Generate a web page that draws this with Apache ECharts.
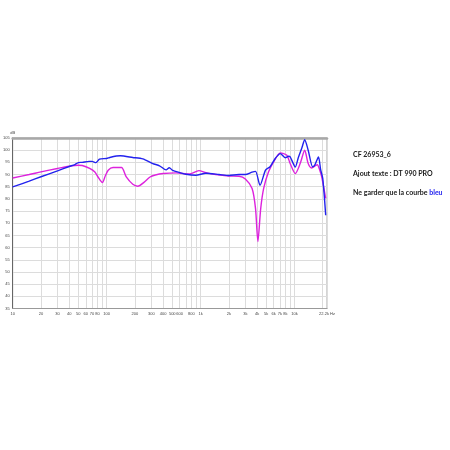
<!DOCTYPE html>
<html><head><meta charset="utf-8">
<script src="https://cdn.jsdelivr.net/npm/echarts@6/dist/echarts.min.js"></script>
<style>html,body{margin:0;padding:0;background:#fff}#c{width:450px;height:450px}</style>
</head><body><div id="c"></div>
<script>
// Blue curve (DT 990 PRO)
const blueFreq = [10,15,20,30,40,46,50,55,65,70,77,84,100,108,127,140,190,243,310,366,430,465,505,600,700,890,1140,1570,2000,2570,3000,3540,3850,4300,4920,5500,6240,7070,7970,8650,9000,10200,11000,12000,12850,14000,15600,16500,18000,19000,20000,21500];
const blueDb   = [84.9,87.3,89.1,91.5,93.3,94.1,94.9,95.0,95.4,95.4,94.9,96.3,96.6,97.0,97.6,97.7,97.0,96.4,94.5,93.6,91.9,92.8,91.7,90.8,90.1,89.7,90.5,90.0,89.6,90.0,90.0,91.0,91.3,85.6,91.8,93.2,96.6,98.6,96.9,97.5,97.3,93.1,97.0,101.0,104.3,100.0,93.2,94.0,97.2,92.0,88.4,73.3];
// Magenta curve
const magFreq = [10,15,20,30,40,50,55,66,75,81,90,97,104,117,144,162,190,215,250,290,330,400,550,760,960,1140,1450,2000,2570,3000,3540,3850,4080,4370,4700,5300,6000,7070,8300,9000,10200,11500,12850,14000,15200,16900,17500,18600,19500,21500];
const magDb   = [88.6,90.0,91.1,92.5,93.4,93.8,93.7,92.5,91.0,89.0,86.7,89.5,91.8,92.9,92.9,89.0,86.0,85.2,86.8,89.0,89.8,90.4,90.7,90.2,91.6,90.8,90.0,89.4,89.3,88.2,84.3,76.0,62.5,76.0,84.3,91.1,95.2,98.9,97.9,94.5,90.4,94.5,100.0,94.5,92.7,93.8,94.0,91.8,89.0,80.2];
// Axis ticks
const gridFreqs = [10,20,30,40,50,60,70,80,90,100,200,300,400,500,600,700,800,900,1000,2000,3000,4000,5000,6000,7000,8000,9000,10000,20000,22200];
const labelFreqs = [10,20,30,40,50,60,70,80,100,200,300,400,500,600,800,1000,2000,3000,4000,5000,6000,7000,8000,10000,22200];
const labelText = {10:'10',20:'20',30:'30',40:'40',50:'50',60:'60',70:'70',80:'80',100:'100',200:'200',300:'300',400:'400',500:'500',600:'600',800:'800',1000:'1k',2000:'2k',3000:'3k',4000:'4k',5000:'5k',6000:'6k',7000:'7k',8000:'8k',10000:'10k',22200:'22.2k Hz'};
const yMin = 35, yMax = 105, yStep = 5;

const zip = (f, v) => f.map((x, i) => [x, v[i]]);
const chart = echarts.init(document.getElementById('c'), null, {renderer: 'canvas'});
const txtFont = '700 7px Lato';
chart.setOption({
  animation: false,
  backgroundColor: '#fff',
  grid: {left: 12, right: 123, top: 138, bottom: 141.5, show: true, borderColor: '#a8a8a8', borderWidth: 1},
  xAxis: [{
    type: 'log', logBase: 10, min: 10, max: 22200,
    axisLine: {show: true, lineStyle: {color: '#999', width: 1}},
    axisTick: {show: false, customValues: gridFreqs},
    axisLabel: {customValues: labelFreqs, formatter: v => labelText[Math.round(v)] || '', fontSize: 4, color: '#444', margin: 3, fontFamily: 'Liberation Sans', showMinLabel: true, showMaxLabel: true},
    splitLine: {show: true, lineStyle: {color: '#dcdcdc', width: 1}}
  }, {
    type: 'log', logBase: 10, min: 10, max: 22200, position: 'top',
    axisLine: {show: true, lineStyle: {color: '#a8a8a8', width: 2.5}},
    axisTick: {show: false}, axisLabel: {show: false}, splitLine: {show: false}
  }],
  yAxis: [{
    type: 'value', min: yMin, max: yMax, interval: yStep,
    name: 'dB', nameGap: 3, nameTextStyle: {fontSize: 4, color: '#444', align: 'center', fontFamily: 'Liberation Sans'},
    axisLine: {show: true, lineStyle: {color: '#666', width: 1}},
    axisTick: {show: false},
    axisLabel: {fontSize: 4, color: '#444', margin: 3, fontFamily: 'Liberation Sans'},
    splitLine: {show: true, lineStyle: {color: '#dcdcdc', width: 1}}
  }],
  series: [{
    type: 'line', data: zip(magFreq, magDb), showSymbol: false, smooth: 0.25,
    lineStyle: {color: '#dd22dd', width: 1.4}, z: 3
  }, {
    type: 'line', data: zip(blueFreq, blueDb), showSymbol: false, smooth: 0.25,
    lineStyle: {color: '#2222ee', width: 1.4}, z: 4
  }],
  graphic: [
    {type: 'text', left: 353, top: 151, style: {text: 'CF 26953_6', font: txtFont, fill: '#1a1a1a'}},
    {type: 'text', left: 353, top: 170, style: {text: 'Ajout texte : DT 990 PRO', font: txtFont, fill: '#1a1a1a'}},
    {type: 'text', left: 353, top: 189, style: {
      text: 'Ne garder que la courbe {b|bleu}', font: txtFont, fill: '#1a1a1a',
      rich: {b: {fill: '#2222ee', font: txtFont}}
    }}
  ]
});
</script></body></html>
